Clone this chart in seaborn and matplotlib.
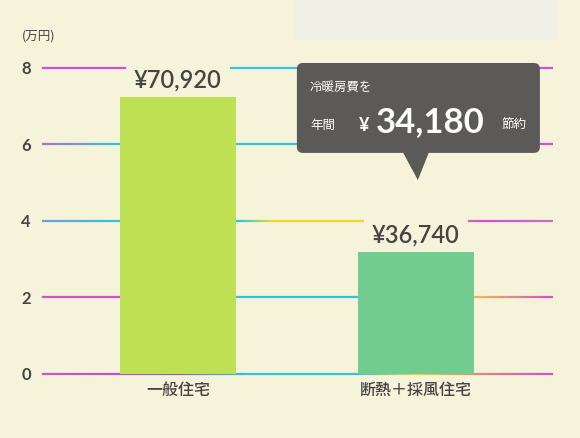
import numpy as np
import matplotlib
matplotlib.use("Agg")
import matplotlib.pyplot as plt
import seaborn as sns
from matplotlib.collections import LineCollection
from matplotlib.colors import LinearSegmentedColormap
from matplotlib.patches import FancyBboxPatch, Polygon, Rectangle

# ---- data ----
categories = ["一般住宅", "断熱＋採風住宅"]
values = [7.24, 3.19]               # bar heights (万円)
value_labels = ["¥70,920", "¥36,740"]
bar_colors = ["#bde055", "#72cc90"]
yticks = [0, 2, 4, 6, 8]
unit_label = "(万円)"
callout_line1 = "冷暖房費を"
callout_pre = "年間"
callout_value = "34,180"
callout_post = "節約"

BG = "#f5f3da"
TXT = "#454545"
CJK = ["Noto Sans CJK JP", "DejaVu Sans"]
NUM = ["Lato", "DejaVu Sans"]

sns.set_theme(style="white")
plt.rcParams["font.family"] = CJK

fig = plt.figure(figsize=(5.8, 4.38), dpi=100, facecolor=BG)
fig.patches.append(Rectangle((295 / 580, 1 - 40 / 438), 262 / 580, 40 / 438,
                             transform=fig.transFigure, facecolor="#f1f0e6",
                             edgecolor="none", zorder=0))
x0, x1 = -0.571, 1.576
ax = fig.add_axes([42 / 580, (438 - 374) / 438, (553 - 42) / 580, (374 - 56.5) / 438])
ax.set_facecolor("none")

sns.barplot(x=categories, y=values, hue=categories, palette=bar_colors, width=0.49,
            legend=False, ax=ax, zorder=3, saturation=1, linewidth=0, edgecolor="none")
ax.set_xlim(x0, x1)
ax.set_ylim(0, 8.3)

# ---- coloured gridlines (decoration) ----
M, C, Y = "#d24fd6", "#2fc6dc", "#f0da28"
grid_stops = {
    8: [(x0, M), (-0.27, M), (0.26, C), (0.5, C), (1.45, M), (x1, M)],
    6: [(x0, "#b070c8"), (-0.25, C), (0.5, C), (1.45, M), (x1, M)],
    4: [(x0, "#6aa0d8"), (-0.25, C), (0.26, C), (0.4, Y), (0.75, Y), (1.3, M), (x1, "#c070c8")],
    2: [(x0, M), (-0.25, M), (0.26, C), (0.76, C), (1.25, "#f0c040"), (x1, M)],
    0: [(x0, M), (0.0, "#9060c0"), (0.3, C), (0.76, C), (1.0, Y), (1.3, "#e08080"), (x1, M)],
}
for lvl, stops in grid_stops.items():
    pos = [(s[0] - x0) / (x1 - x0) for s in stops]
    cmap = LinearSegmentedColormap.from_list(f"g{lvl}", list(zip(pos, [s[1] for s in stops])))
    xs = np.linspace(x0, x1, 300)
    segs = [[(xs[i], lvl), (xs[i + 1], lvl)] for i in range(len(xs) - 1)]
    lc = LineCollection(segs, colors=cmap(np.linspace(0, 1, len(segs))),
                        linewidths=1.6, zorder=1, clip_on=False)
    ax.add_collection(lc)

# ---- value labels ----
for i, (v, lab) in enumerate(zip(values, value_labels)):
    ax.annotate(lab, (i, v), xytext=(0, 12), textcoords="offset points",
                ha="center", va="center", fontsize=17, color=TXT,
                family=NUM, fontweight="semibold", zorder=2,
                bbox=dict(boxstyle="square,pad=0.35", facecolor=BG, edgecolor="none"))

# ---- callout ----
bx0, bx1, by0, by1 = 0.5, 1.521, 5.78, 8.13
asp = 238 / 38.25
box = FancyBboxPatch((bx0, by0), bx1 - bx0, by1 - by0,
                     boxstyle="round,pad=0,rounding_size=0.025",
                     mutation_aspect=asp, facecolor="#5b5a58", edgecolor="none",
                     zorder=6, clip_on=False)
ax.add_patch(box)
ax.add_patch(Polygon([(0.945, by0 + 0.02), (1.055, by0 + 0.02), (1.008, 5.07)],
                     closed=True, facecolor="#5b5a58", edgecolor="none",
                     zorder=6, clip_on=False))
ax.text(0.555, 7.48, callout_line1, color="white", fontsize=9, ha="left",
        va="center", zorder=7)
ax.text(0.555, 6.5, callout_pre, color="white", fontsize=9, ha="left",
        va="center", zorder=7)
ax.text(0.782, 6.5, "¥", color="white", fontsize=13, ha="center",
        va="center", zorder=7, family=NUM, fontweight="bold")
ax.text(1.058, 6.58, callout_value, color="white", fontsize=25, ha="center",
        va="center", zorder=7, family=NUM, fontweight="bold")
ax.text(1.36, 6.5, callout_post, color="white", fontsize=9, ha="left",
        va="center", zorder=7)

# ---- axes styling ----
ax.set_yticks(yticks)
ax.set_yticklabels([str(t) for t in yticks], family=NUM, fontsize=12,
                   color=TXT, fontweight="bold")
ax.set_xticks(range(len(categories)))
ax.set_xticklabels(categories, fontsize=11.5, color=TXT, fontweight="medium")
ax.tick_params(axis="both", length=0)
ax.tick_params(axis="y", pad=8)
ax.tick_params(axis="x", pad=6)
for s in ax.spines.values():
    s.set_visible(False)
ax.set_xlabel("")
ax.set_ylabel("")
fig.text(22 / 580, 1 - 36 / 438, unit_label, fontsize=9, color=TXT,
         ha="left", va="center")

fig.savefig("out.png", dpi=100, facecolor=BG)
